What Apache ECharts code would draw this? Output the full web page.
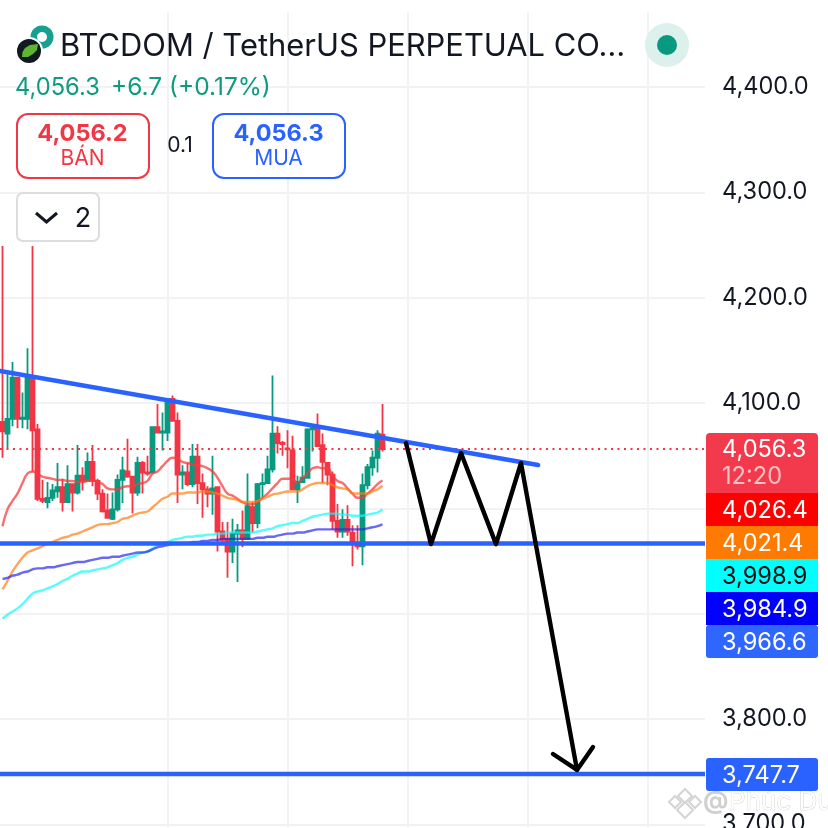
<!DOCTYPE html>
<html><head><meta charset="utf-8">
<style>html,body{margin:0;padding:0;background:#fff}#c{width:828px;height:828px}</style>
<script src="https://cdn.jsdelivr.net/npm/echarts@6/dist/echarts.min.js"></script>
</head><body><div id="c"></div>
<script>
// [open, close, low, high]
const candles = [
[4082,4073,4048,4249],[4071,4085,4057,4131],[4085,4124,4078,4139],[4124,4085,4076,4124],[4085,4086,4076,4110],
[4085,4124,4075,4152],[4124,4074,4035,4249],[4075,4009,4007,4080],[4009,4007,4005,4027],[4006,4010,4000,4025],
[4010,4017,4007,4023],[4016,4020,4010,4043],[4020,4006,3997,4028],[4006,4023,4005,4041],[4023,4015,3997,4023],
[4015,4031,4013,4060],[4031,4026,4017,4039],[4026,4044,4026,4053],[4044,4026,4021,4060],[4026,4014,4008,4028],
[4014,3997,3996,4018],[3998,3991,3990,4014],[3990,3999,3989,4015],[3999,4027,3997,4032],[4027,4036,4005,4049],
[4035,4030,4029,4066],[4030,4015,3995,4031],[4015,4043,4012,4049],[4043,4034,4014,4045],[4034,4033,4031,4050],
[4034,4077,4033,4078],[4077,4072,4071,4099],[4072,4073,4055,4091],[4072,4104,4064,4104],[4104,4083,4083,4107],
[4083,4032,4005,4091],[4032,4034,4018,4041],[4034,4023,4021,4043],[4023,4049,4020,4061],[4049,4024,4004,4061],
[4024,4018,3991,4033],[4018,4014,4001,4021],[4014,4019,3994,4050],[4020,3978,3959,4020],[3978,3970,3966,3987],
[3971,3959,3934,3987],[3959,3976,3948,3990],[3976,3979,3930,3985],[3979,3971,3963,3998],[3971,4002,3971,4033],
[4001,3986,3977,4006],[3986,4023,3981,4024],[4023,4024,4010,4033],[4024,4037,4023,4050],[4037,4071,4034,4126],
[4071,4062,4052,4078],[4062,4061,4050,4064],[4057,4056,4038,4074],[4055,4018,4018,4069],[4018,4025,4005,4031],
[4025,4029,4024,4040],[4029,4075,4028,4076],[4075,4076,4054,4078],[4076,4059,4059,4090],[4060,4044,4024,4071],
[4043,4032,4022,4043],[4032,3988,3980,4035],[3988,3978,3972,4004],[3978,3989,3972,3999],[3989,3978,3974,4003],
[3977,3966,3945,3984],[3966,3964,3961,3984],[3964,4022,3946,4033],[4022,4039,4018,4042],[4039,4048,4031,4055],
[4048,4071,4034,4074],[4070,4056.3,4054,4099]
];
const maRed = [3983,3999,4007,4014,4024,4033,4035,4033,4030,4029,4028,4027,4027,4026,4026,4025,4025,4026,4027,4025,4023,4019,4018,4018,4020,4021,4021,4023,4024,4026,4033,4035,4040,4045,4048,4047,4044,4043,4042,4041,4040,4038,4035,4029,4021,4014,4012,4009,4006,4004,4004,4006,4010,4014,4019,4024,4028,4028,4028,4024,4029,4033,4038,4039,4038,4038,4031,4026,4024,4019,4014,4010,4010,4014,4018,4023,4026.4];
const maOrange = [3923,3931,3940,3947,3953,3958,3960,3962,3964,3966,3968,3970,3972,3973,3975,3976,3978,3980,3982,3984,3985,3985,3986,3987,3990,3991,3993,3995,3996,3997,4001,4005,4009,4011,4014,4014,4014,4015,4015,4015,4016,4016,4015,4014,4012,4010,4009,4008,4006,4006,4006,4007,4009,4011,4013,4014,4015,4016,4016,4016,4018,4021,4023,4024,4024,4024,4022,4020,4019,4018,4014,4014,4014,4014,4016,4018,4021.4];
const maCyan = [3895,3899,3902,3905,3909,3914,3919,3921,3922,3924,3926,3928,3931,3933,3936,3938,3940,3940,3941,3942,3943,3944,3946,3948,3951,3953,3954,3956,3958,3959,3962,3965,3967,3968,3970,3971,3972,3973,3973,3974,3974,3975,3975,3976,3976,3977,3977,3977,3977,3977,3977,3978,3979,3980,3981,3983,3984,3985,3986,3986,3988,3990,3992,3993,3994,3995,3995,3995,3994,3994,3993,3993,3993,3994,3995,3996,3998.9];
const maBlue = [3933,3934,3936,3937,3939,3940,3942,3943,3943,3944,3944,3945,3946,3947,3948,3949,3949,3950,3951,3952,3953,3953,3954,3954,3955,3956,3957,3958,3958,3959,3961,3963,3964,3965,3966,3966,3967,3967,3968,3968,3969,3969,3970,3970,3971,3971,3971,3971,3971,3971,3971,3972,3972,3973,3973,3974,3975,3976,3976,3977,3977,3978,3979,3980,3980,3980,3980,3980,3980,3980,3980,3980,3980,3981,3982,3983,3984.9];
const lastPrice = 4056.3;
const supportA = 3966.6;
const supportB = 3747.7;
const trendLine = [[-0.5,4130.4],[107.1,4041.1]];
const zigzag = [[80.7,4062],[85.7,3966],[91.7,4052.5],[98.7,3966],[103.7,4043],[114.9,3751.6]];
const arrowHead = [[110.1,3766.7],[114.9,3751.6],[118.1,3773.4]];
const slotCount = 141;
const gridSlots = [33,57,81,105,129];
const titleText = 'BTCDOM / TetherUS PERPETUAL CO…';
const quotePrice = '4,056.3', quoteChange = '+6.7 (+0.17%)';
const sellPrice = '4,056.2', buyPrice = '4,056.3', spread = '0.1';
const tags = [
 {t:'4,026.4',bg:'#ff0000',fg:'#fff',y:493},
 {t:'4,021.4',bg:'#ff7a00',fg:'#fff',y:526},
 {t:'3,998.9',bg:'#00ffff',fg:'#111',y:559},
 {t:'3,984.9',bg:'#0000ff',fg:'#fff',y:592},
 {t:'3,966.6',bg:'#2f66ff',fg:'#fff',y:625},
 {t:'3,747.7',bg:'#2962ff',fg:'#fff',y:758}
];
const F = 'Inter, Roboto, sans-serif';
const GREEN='#089981', RED='#f23645', BLUE='#2962ff', GRID='#f1f2f3';

const cats = Array.from({length:slotCount},(_,i)=>String(i));
const idx = a => a.map((v,i)=>[i,v]);
const ma = (name,data,color)=>({name,type:'line',xAxisIndex:1,data:idx(data),showSymbol:false,smooth:0.5,z:4,
  lineStyle:{color,width:2.4},silent:true});
const seg = (name,data,color,width,z,extra)=>({name,type:'line',xAxisIndex:1,data,showSymbol:false,z:z,silent:true,
  lineStyle:Object.assign({color,width},extra||{})});
const txt=(x,y,text,size,fill,o)=>({type:'text',z:60,x,y,style:Object.assign({text,fontSize:size,fill,fontFamily:F,verticalAlign:'middle'},o||{})});
const diamond=(cx,cy,r)=>({type:'polygon',z:70,shape:{points:[[cx,cy-r],[cx+r,cy],[cx,cy+r],[cx-r,cy]]},style:{fill:'#fff',stroke:'#d4d4d4',lineWidth:2}});
const elements = [
 {type:'rect',z:50,shape:{x:0,y:0,width:828,height:12},style:{fill:'#fff'}},
 // logo
 {type:'circle',z:60,shape:{cx:42,cy:37,r:11.5},style:{fill:'#17a08f'}},
 {type:'circle',z:61,shape:{cx:42,cy:37,r:5},style:{fill:'#fff'}},
 {type:'circle',z:62,shape:{cx:29,cy:51,r:14},style:{fill:'#fff'}},
 {type:'circle',z:63,shape:{cx:29,cy:51,r:12},style:{fill:'#111a1f'}},
 {type:'polygon',z:64,shape:{points:[[22,57],[22.5,52],[25,48],[30,45],[38,44],[37,50],[33,54],[28,57]]},style:{fill:'#5fb52f'}},
 // status dot
 {type:'circle',z:60,shape:{cx:667,cy:45,r:22},style:{fill:'#dcf0ec'}},
 {type:'circle',z:61,shape:{cx:667,cy:45,r:10},style:{fill:GREEN}},
 txt(60,47,titleText,30.9,'#131722'),
 txt(15,88,quotePrice,23.7,'#0e9b80'),
 txt(111,88,quoteChange,24.5,'#0e9b80'),
 // sell / buy boxes
 {type:'rect',z:60,shape:{x:17,y:114,width:132,height:64,r:11},style:{fill:'#fff',stroke:RED,lineWidth:2}},
 txt(82.5,134,sellPrice,23.5,RED,{align:'center',fontWeight:700}),
 txt(82.5,159,'BÁN',21,RED,{align:'center'}),
 txt(180,146,spread,21,'#131722',{align:'center'}),
 {type:'rect',z:60,shape:{x:213,y:114,width:132,height:64,r:11},style:{fill:'#fff',stroke:BLUE,lineWidth:2}},
 txt(278.5,134,buyPrice,23.5,BLUE,{align:'center',fontWeight:700}),
 txt(278.5,159,'MUA',21,BLUE,{align:'center'}),
 // collapse button
 {type:'rect',z:60,shape:{x:17,y:193,width:82,height:48,r:6},style:{fill:'#fff',stroke:'#dcdde0',lineWidth:2}},
 {type:'polyline',z:61,shape:{points:[[36,213],[46.5,222],[57,213]]},style:{stroke:'#131722',lineWidth:3,fill:'none'}},
 txt(83,219,'2',27,'#131722',{align:'center'}),
 // last-price tag
 {type:'rect',z:60,shape:{x:706,y:433,width:112,height:60,r:[4,4,0,0]},style:{fill:'#f23a4c'}},
 txt(722,450,'4,056.3',23.6,'#fff'),
 txt(722,477,'12:20',23.6,'#fbc0c6'),
 // watermark
 diamond(685,796,7), diamond(675,802,6), diamond(695,802,6), diamond(685,810,8),
 txt(703,801,'@',25,'#d0d0d0',{fontWeight:700}),
 txt(729,802,'Phúc Du',26,'#fff',{stroke:'#c8c8c8',lineWidth:0.7})
];
tags.forEach(g=>{
 elements.push({type:'rect',z:60,shape:{x:706,y:g.y,width:112,height:33,r:g.t==='3,747.7'||g.t==='3,966.6'?3:0},style:{fill:g.bg}});
 elements.push(txt(722,g.y+17.5,g.t,23.6,g.fg));
});

const chart = echarts.init(document.getElementById('c'),null,{renderer:'canvas'});
chart.setOption({
 animation:false,backgroundColor:'#fff',
 grid:{left:0,width:705,top:-18.3,height:947.9,containLabel:false,outerBoundsMode:'none'},
 xAxis:[
  {type:'category',data:cats,boundaryGap:true,axisLine:{show:false},axisTick:{show:false},axisLabel:{show:false},
   splitLine:{show:true,alignWithLabel:true,interval:(i)=>gridSlots.includes(i),lineStyle:{color:GRID,width:2}}},
  {type:'value',min:-0.5,max:slotCount-0.5,show:false,splitLine:{show:false}}
 ],
 yAxis:{type:'value',position:'right',min:3600,max:4500,interval:100,
  axisLine:{show:false},axisTick:{show:false},
  axisLabel:{show:true,margin:17,fontSize:23.6,fontFamily:F,color:'#131722',padding:[3,0,0,0],
    formatter:v=>v.toLocaleString('en-US',{minimumFractionDigits:1,maximumFractionDigits:1})},
  splitLine:{show:true,lineStyle:{color:GRID,width:2}}},
 series:[
  {type:'candlestick',xAxisIndex:0,data:candles,barWidth:4.4,z:2,silent:true,
   itemStyle:{color:GREEN,color0:RED,borderColor:GREEN,borderColor0:RED,borderColorDoji:GREEN,borderWidth:1.8}},
  ma('MA1',maRed,'rgba(245,60,60,0.75)'),
  ma('MA2',maOrange,'rgba(255,125,20,0.7)'),
  ma('MA3',maCyan,'rgba(20,250,250,0.7)'),
  ma('MA4',maBlue,'rgba(40,40,235,0.7)'),
  seg('Last',[[-0.5,lastPrice],[140.5,lastPrice]],RED,2,3,{type:[2,4.5]}),
  seg('SupportA',[[-0.5,supportA],[140.5,supportA]],BLUE,4.6,5),
  seg('SupportB',[[-0.5,supportB],[140.5,supportB]],BLUE,4.6,5),
  seg('Trend',trendLine,BLUE,4.6,5,{cap:'round'}),
  seg('Zigzag',zigzag,'#000',4.4,6,{cap:'round',join:'round'}),
  seg('Arrow',arrowHead,'#000',4.4,6,{cap:'round',join:'round'})
 ],
 graphic:{elements}
});
</script></body></html>
